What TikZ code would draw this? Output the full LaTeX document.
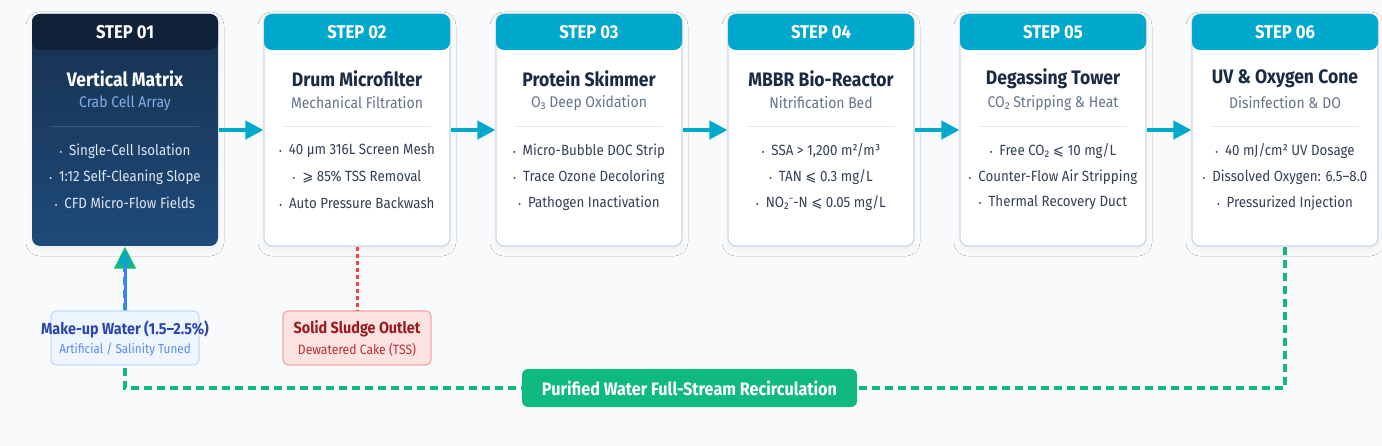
\documentclass[tikz,border=0pt]{standalone}
\usepackage{fontspec}
\setmainfont{Fira Sans}[FakeStretch=0.9, BoldFeatures={FakeStretch=0.9}]
\newfontfamily\symf{DejaVu Sans}[FakeStretch=0.9]
\newfontfamily\notof{Noto Sans}[FakeStretch=0.9]
\usetikzlibrary{shadows.blur,arrows.meta}
\definecolor{bg}{HTML}{F8FAFC}
\definecolor{cyanhead}{HTML}{00A8CC}
\definecolor{cardborder}{HTML}{CBD5E1}
\definecolor{titlec}{HTML}{1B2A44}
\definecolor{subc}{HTML}{64748B}
\definecolor{bulc}{HTML}{334155}
\definecolor{sepc}{HTML}{E5EAF0}
\definecolor{navyhead}{HTML}{0F2238}
\definecolor{navytop}{HTML}{17314F}
\definecolor{navybot}{HTML}{1E4A7A}
\definecolor{navysub}{HTML}{7FB0EA}
\definecolor{navysep}{HTML}{3B5A7E}
\definecolor{navybul}{HTML}{DEE7F2}
\definecolor{greenc}{HTML}{10B981}
\definecolor{bluec}{HTML}{3B82F6}
\definecolor{tealtip}{HTML}{0AA6C6}
\definecolor{mufill}{HTML}{EEF5FF}
\definecolor{muborder}{HTML}{BFDBFE}
\definecolor{mutitle}{HTML}{2A46AE}
\definecolor{musub}{HTML}{5B8DEF}
\definecolor{slfill}{HTML}{FDE2E2}
\definecolor{slborder}{HTML}{F5A5A5}
\definecolor{sltitle}{HTML}{991B1B}
\definecolor{slsub}{HTML}{B83232}
\definecolor{redline}{HTML}{EF4444}
\newcommand\bdot{{\fontsize{9}{9}\selectfont •}\hspace{7pt}}
\newcommand\myle{{\symf ⩽}}
\newcommand\myge{{\symf ⩾}}
\newcommand\subtwo{{\notof ₂}}
\newcommand\subthree{{\notof ₃}}
\newcommand\supminus{{\notof ⁻}}
\tikzset{
  cardbox/.style={draw=cardborder, line width=1.2pt, fill=white, rounded corners=8pt,
    minimum width=186pt, minimum height=232pt, inner sep=0pt,
    blur shadow={shadow blur steps=6, shadow xshift=0pt, shadow yshift=-4pt, shadow opacity=4, shadow blur radius=6pt}},
  headbox/.style={fill=cyanhead, rounded corners=8pt, minimum width=186pt, minimum height=36pt, inner sep=0pt,
    text=white, font=\fontsize{18.5}{18.5}\selectfont\bfseries},
  titletext/.style={text=titlec, font=\fontsize{19.5}{19.5}\selectfont\bfseries, inner sep=0pt},
  subtext/.style={text=subc, font=\fontsize{15.5}{15.5}\selectfont, inner sep=0pt},
  bultext/.style={text=bulc, font=\fontsize{14.8}{14.8}\selectfont, inner sep=0pt},
  flow/.style={draw=cyanhead, line width=4pt, -{Triangle[length=18pt,width=18pt]}},
  recirc/.style={draw=greenc, line width=4pt, dash pattern=on 8pt off 5pt},
}
\newcommand\stepcard[8]{%
  \node[cardbox] (#1box) at (#2,130) {};
  \node[headbox] (#1head) at (#2,32) {#3};
  \node[titletext] (#1title) at (#2,79) {#4};
  \node[subtext] (#1sub) at (#2,103) {#5};
  \coordinate (#1sl) at (#2-74,127);
  \coordinate (#1sr) at (#2+74,127);
  \draw[sepc, line width=1pt] (#1sl) -- (#1sr);
  \node[bultext] (#1ba) at (#2,151) {\bdot #6};
  \node[bultext] (#1bb) at (#2,177) {\bdot #7};
  \node[bultext] (#1bc) at (#2,203) {\bdot #8};
}
\begin{document}
\begin{tikzpicture}[x=1pt,y=-1pt]
\fill[bg] (0,0) rectangle (1382,446);
\useasboundingbox (0,0) rectangle (1382,446);
\coordinate (rc) at (0,388);
% step 01
\node[cardbox, draw=none, top color=navytop, bottom color=navybot] (s1box) at (125,130) {};
\node[headbox, fill=navyhead] (s1head) at (125,32) {STEP 01};
\node[titletext, text=white] (s1title) at (125,79) {Vertical Matrix};
\node[subtext, text=navysub] (s1sub) at (125,103) {Crab Cell Array};
\coordinate (s1sl) at (51,127);
\coordinate (s1sr) at (199,127);
\draw[navysep, line width=1pt] (s1sl) -- (s1sr);
\node[bultext, text=navybul] (s1ba) at (125,151) {\bdot Single-Cell Isolation};
\node[bultext, text=navybul] (s1bb) at (125,177) {\bdot 1:12 Self-Cleaning Slope};
\node[bultext, text=navybul] (s1bc) at (125,203) {\bdot CFD Micro-Flow Fields};
% steps 02-06
\stepcard{s2}{357}{STEP 02}{Drum Microfilter}{Mechanical Filtration}{40 µm 316L Screen Mesh}{\myge{} 85\% TSS Removal}{Auto Pressure Backwash}
\stepcard{s3}{589}{STEP 03}{Protein Skimmer}{O\subthree{} Deep Oxidation}{Micro-Bubble DOC Strip}{Trace Ozone Decoloring}{Pathogen Inactivation}
\stepcard{s4}{821}{STEP 04}{MBBR Bio-Reactor}{Nitrification Bed}{SSA > 1,200 m²/m³}{TAN \myle{} 0.3 mg/L}{NO\subtwo\supminus-N \myle{} 0.05 mg/L}
\stepcard{s5}{1053}{STEP 05}{Degassing Tower}{CO\subtwo{} Stripping \& Heat}{Free CO\subtwo{} \myle{} 10 mg/L}{Counter-Flow Air Stripping}{Thermal Recovery Duct}
\stepcard{s6}{1285}{STEP 06}{UV \& Oxygen Cone}{Disinfection \& DO}{40 mJ/cm² UV Dosage}{Dissolved Oxygen: 6.5–8.0}{Pressurized Injection}
% flow arrows
\draw[flow] (s1box.east) -- (s2box.west);
\draw[flow] (s2box.east) -- (s3box.west);
\draw[flow] (s3box.east) -- (s4box.west);
\draw[flow] (s4box.east) -- (s5box.west);
\draw[flow] (s5box.east) -- (s6box.west);
% recirculation
\draw[recirc, -{Triangle[length=22pt,width=21pt]}] (s6box.south) -- (s6box.south |- rc) -| (s1box.south);
% make-up water
\node[draw=muborder, fill=mufill, line width=1.2pt, rounded corners=5pt, minimum width=148pt, minimum height=54pt, inner sep=0pt] (mubox) at (125,338) {};
\node[text=mutitle, font=\fontsize{16}{16}\selectfont\bfseries, inner sep=0pt] (mutitle) at (125,329) {Make-up Water (1.5–2.5\%)};
\node[text=musub, font=\fontsize{13}{13}\selectfont, inner sep=0pt] (musub) at (125,350) {Artificial / Salinity Tuned};
\draw[bluec, line width=3pt, -{Triangle[length=13pt,width=12pt,color=tealtip]}] (mubox.north) -- ([yshift=-4pt]s1box.south);
% sludge
\node[draw=slborder, fill=slfill, line width=1.2pt, rounded corners=5pt, minimum width=148pt, minimum height=54pt, inner sep=0pt] (slbox) at (357,338) {};
\node[text=sltitle, font=\fontsize{16}{16}\selectfont\bfseries, inner sep=0pt] (sltitle) at (357,329) {Solid Sludge Outlet};
\node[text=slsub, font=\fontsize{13.5}{13.5}\selectfont, inner sep=0pt] (slsub) at (357,350) {Dewatered Cake (TSS)};
\draw[redline, line width=3pt, dash pattern=on 4pt off 3pt] (s2box.south) -- (slbox.north);
% recirculation label
\node[fill=greenc, rounded corners=6pt, minimum width=335pt, minimum height=38pt, inner sep=0pt,
  text=white, font=\fontsize{18}{18}\selectfont\bfseries] (rclabel) at (689.5,388) {Purified Water Full-Stream Recirculation};
\end{tikzpicture}
\end{document}
